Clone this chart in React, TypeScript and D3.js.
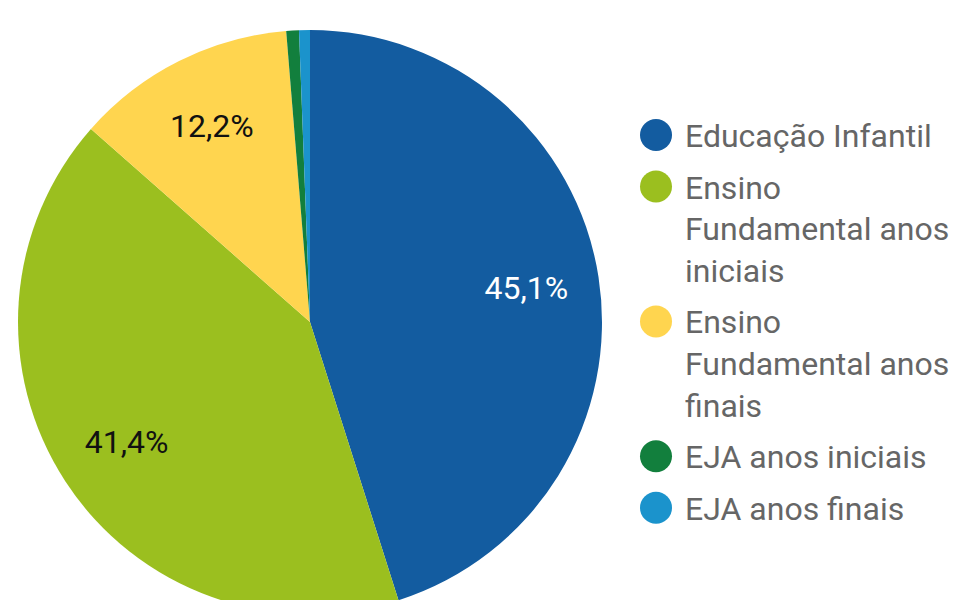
import React from "react";
import * as d3 from "d3";

const categories = [
  "Educação Infantil",
  "Ensino Fundamental anos iniciais",
  "Ensino Fundamental anos finais",
  "EJA anos iniciais",
  "EJA anos finais",
];
const values = [45.1, 41.4, 12.2, 0.7, 0.6];
const colors = ["#135ca0", "#9bbf1f", "#ffd54f", "#127f3d", "#1b93cc"];
const labelColors = ["#ffffff", "#111111", "#111111", "#111111", "#111111"];
const legendLines = [
  ["Educação Infantil"],
  ["Ensino", "Fundamental anos", "iniciais"],
  ["Ensino", "Fundamental anos", "finais"],
  ["EJA anos iniciais"],
  ["EJA anos finais"],
];

export default function App() {
  const W = 957, H = 600;
  const cx = 310, cy = 322, R = 292;
  const pie = d3.pie<number>().sort(null).value((d) => d);
  const arcs = pie(values);
  const arc = d3.arc<d3.PieArcDatum<number>>().innerRadius(0).outerRadius(R);
  const labelArc = d3.arc<d3.PieArcDatum<number>>().innerRadius(R * 0.75).outerRadius(R * 0.75);
  const font = "Roboto, sans-serif";

  const lineH = 41.7;
  const gap = 51.5;
  let y = 147;
  const legendItems = legendLines.map((lines, i) => {
    const y0 = y;
    y += (lines.length - 1) * lineH + gap;
    return { lines, y0, i };
  });

  return (
    <svg width={W} height={H} style={{ position: "absolute", left: 0, top: 0 }}>
      <rect width={W} height={H} fill="#ffffff" />
      <g transform={`translate(${cx},${cy})`}>
        {arcs.map((a, i) => (
          <path key={i} d={arc(a) || ""} fill={colors[i]} />
        ))}
        {arcs.map((a, i) => {
          if (values[i] < 5) return null;
          const [x, yy] = labelArc.centroid(a);
          return (
            <text key={i} x={x} y={yy} textAnchor="middle" dominantBaseline="central"
              fontFamily={font} fontSize={32} fill={labelColors[i]}>
              {values[i].toFixed(1).replace(".", ",")}%
            </text>
          );
        })}
      </g>
      {legendItems.map(({ lines, y0, i }) => (
        <g key={i}>
          <circle cx={656} cy={y0 - 12} r={16} fill={colors[i]} />
          <text fontFamily={font} fontSize={32} fill="#666666">
            {lines.map((l, j) => (
              <tspan key={j} x={685} y={y0 + j * lineH}>{l}</tspan>
            ))}
          </text>
        </g>
      ))}
    </svg>
  );
}
